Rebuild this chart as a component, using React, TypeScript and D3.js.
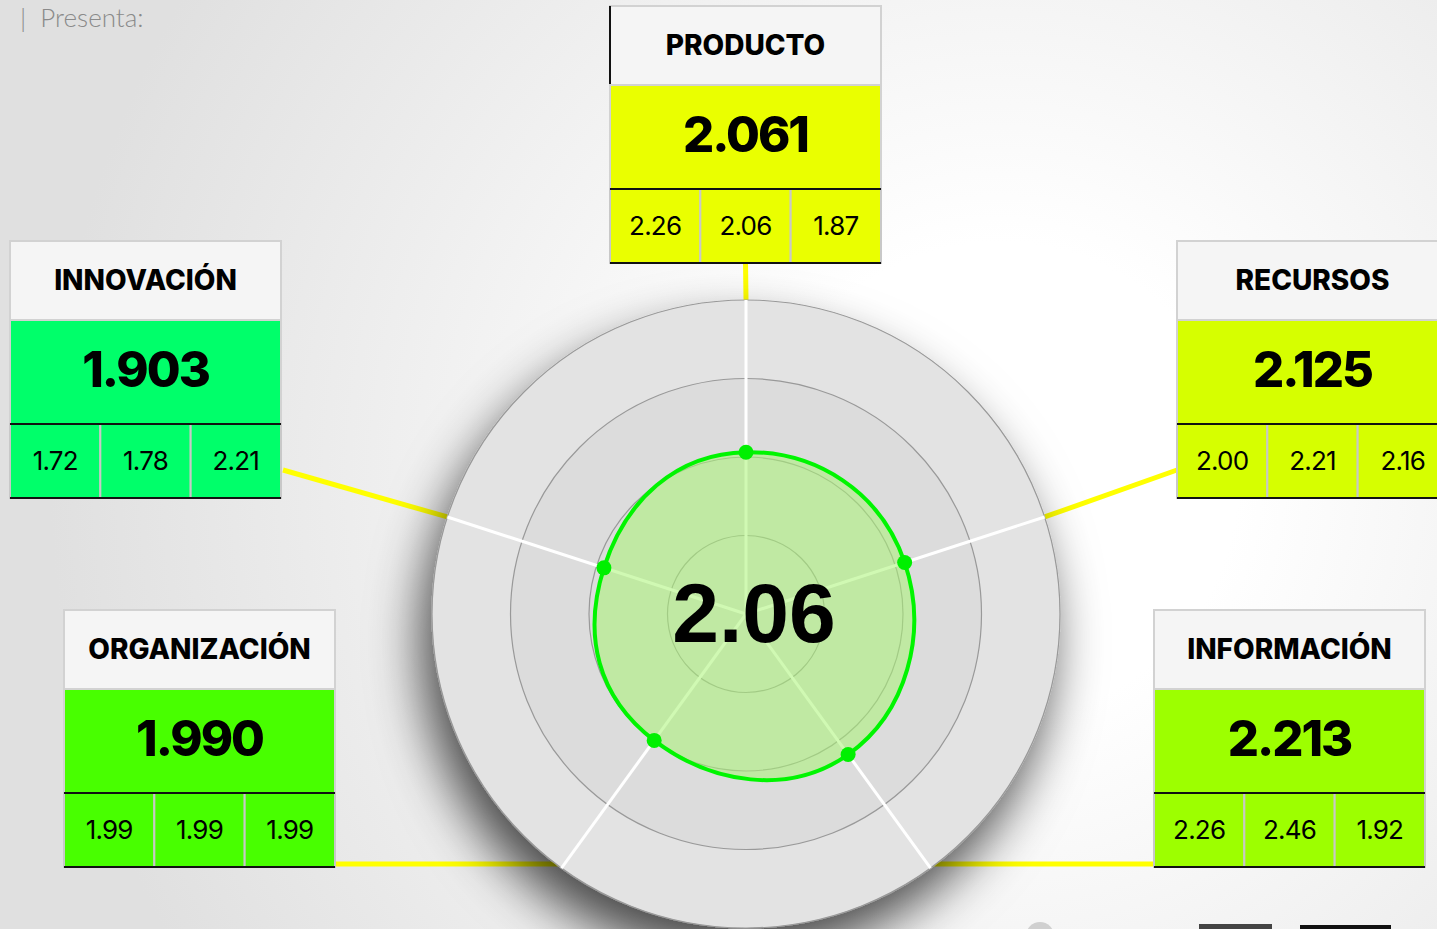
import React, { useEffect, useRef } from 'react'
import * as d3 from 'd3'

// data
const categories = ['PRODUCTO', 'RECURSOS', 'INFORMACIÓN', 'ORGANIZACIÓN', 'INNOVACIÓN']
const scores = [2.061, 2.125, 2.213, 1.99, 1.903]
const subScores = [
  [2.26, 2.06, 1.87],
  [2.0, 2.21, 2.16],
  [2.26, 2.46, 1.92],
  [1.99, 1.99, 1.99],
  [1.72, 1.78, 2.21],
]
const boxColors = ['#eaff00', '#d6ff00', '#9dff00', '#48ff00', '#00ff6a']
const overall = 2.06
const ringTicks = [1, 2, 3, 4]

// layout
const W = 1437
const H = 929
const cx = 746
const cy = 614
const R = 314
const boxPos = [
  [610, 6],
  [1177, 241],
  [1154, 610],
  [64, 610],
  [10, 241],
]
const BW = 271
const HEAD = 79
const VAL = 104
const SUB = 74

const App = () => {
  const svgRef = useRef<SVGSVGElement>(null)

  useEffect(() => {
    const svg = d3.select(svgRef.current)
    svg.selectAll('*').remove()

    const defs = svg.append('defs')
    const bg = defs.append('radialGradient').attr('id', 'bg')
      .attr('gradientUnits', 'userSpaceOnUse')
      .attr('cx', 1000).attr('cy', 480).attr('r', 950)
    bg.append('stop').attr('offset', '0.25').attr('stop-color', '#ffffff')
    bg.append('stop').attr('offset', '1').attr('stop-color', '#e0e0e0')

    const sh = defs.append('filter').attr('id', 'shadow')
      .attr('x', '-30%').attr('y', '-30%').attr('width', '160%').attr('height', '160%')
    sh.append('feDropShadow').attr('dx', -10).attr('dy', 28)
      .attr('stdDeviation', 26).attr('flood-color', '#000').attr('flood-opacity', 0.7)

    svg.append('rect').attr('width', W).attr('height', H).attr('fill', 'url(#bg)')

    svg.append('text').attr('x', 20).attr('y', 27)
      .attr('font-family', 'Lato, sans-serif').attr('font-weight', 300)
      .attr('font-size', 26).attr('fill', '#8a8a8a')
      .attr('xml:space', 'preserve')
      .text('|  Presenta:')

    // cut-off logos at the bottom edge
    svg.append('circle').attr('cx', 1040).attr('cy', 936).attr('r', 14).attr('fill', '#d0d0d0')
    svg.append('rect').attr('x', 1199).attr('y', 924).attr('width', 73).attr('height', 5).attr('fill', '#444')
    svg.append('rect').attr('x', 1300).attr('y', 925).attr('width', 91).attr('height', 4).attr('fill', '#111')

    const r = d3.scaleLinear().domain([0, 4]).range([0, R])
    const ang = d3.scaleLinear().domain([0, categories.length]).range([0, 2 * Math.PI])
    const pt = (i: number, v: number): [number, number] => [
      cx + r(v) * Math.sin(ang(i)),
      cy - r(v) * Math.cos(ang(i)),
    ]

    // connectors
    const ends = categories.map((_, i) => pt(i, 4))
    const anchors: [number, number][] = [
      [boxPos[0][0] + BW / 2, boxPos[0][1] + HEAD + VAL + SUB],
      [boxPos[1][0], boxPos[1][1] + 229],
      [boxPos[2][0], ends[2][1] - 4],
      [boxPos[3][0] + BW, ends[3][1] - 4],
      [boxPos[4][0] + BW + 2, boxPos[4][1] + 229],
    ]
    const starts: [number, number][] = ends.map((e, i) => (i === 2 || i === 3 ? [e[0], e[1] - 4] : e))
    svg.append('g').selectAll('line').data(categories).join('line')
      .attr('x1', (_, i) => starts[i][0]).attr('y1', (_, i) => starts[i][1])
      .attr('x2', (_, i) => anchors[i][0]).attr('y2', (_, i) => anchors[i][1])
      .attr('stroke', '#ffff00').attr('stroke-width', 5)

    // rings
    const g = svg.append('g')
    const rings = [...ringTicks].reverse()
    g.selectAll('circle.ring').data(rings).join('circle')
      .attr('class', 'ring')
      .attr('cx', cx).attr('cy', cy).attr('r', d => r(d))
      .attr('fill', d => (d === 4 ? '#e3e3e3' : '#dcdcdc'))
      .attr('stroke', '#999').attr('stroke-width', 1.2)
      .attr('filter', d => (d === 4 ? 'url(#shadow)' : null))

    g.selectAll('line.spoke').data(categories).join('line')
      .attr('class', 'spoke')
      .attr('x1', cx).attr('y1', cy)
      .attr('x2', (_, i) => ends[i][0]).attr('y2', (_, i) => ends[i][1])
      .attr('stroke', '#ffffff').attr('stroke-width', 3)

    const pts = scores.map((v, i) => pt(i, v))
    const line = d3.line().curve(d3.curveCardinalClosed.tension(-0.4))
    g.append('path').attr('d', line(pts))
      .attr('fill', '#aaf474').attr('fill-opacity', 0.55)
      .attr('stroke', '#00f500').attr('stroke-width', 4)

    g.selectAll('circle.dot').data(pts).join('circle')
      .attr('class', 'dot')
      .attr('cx', d => d[0]).attr('cy', d => d[1]).attr('r', 7.5)
      .attr('fill', '#00f000')

    g.append('text').attr('x', cx + 8).attr('y', cy + 28)
      .attr('text-anchor', 'middle')
      .attr('font-family', 'Liberation Sans, Arial, sans-serif').attr('font-weight', 700)
      .attr('font-size', 84).attr('fill', '#000')
      .text(d3.format('.2f')(overall))

    // boxes
    const boxes = svg.append('g').selectAll('g.box').data(categories).join('g')
      .attr('class', 'box')
      .attr('transform', (_, i) => `translate(${boxPos[i][0]},${boxPos[i][1]})`)

    boxes.append('rect').attr('width', BW).attr('height', HEAD)
      .attr('fill', '#f5f5f5').attr('stroke', '#d2d2d2').attr('stroke-width', 2)
    boxes.filter((_, i) => i === 0).append('line')
      .attr('x1', 0).attr('x2', 0).attr('y1', 0).attr('y2', HEAD)
      .attr('stroke', '#111').attr('stroke-width', 2)
    boxes.append('text').attr('x', BW / 2).attr('y', 49)
      .attr('text-anchor', 'middle')
      .attr('font-family', 'Inter, sans-serif').attr('font-weight', 800)
      .attr('font-size', 28).attr('fill', '#000')
      .text(d => d)

    boxes.append('rect').attr('y', HEAD).attr('width', BW).attr('height', VAL)
      .attr('fill', (_, i) => boxColors[i]).attr('stroke', '#d2d2d2').attr('stroke-width', 2)
    boxes.append('text').attr('x', BW / 2).attr('y', HEAD + 67)
      .attr('text-anchor', 'middle')
      .attr('font-family', 'Inter, sans-serif').attr('font-weight', 800)
      .attr('font-size', 49).attr('letter-spacing', -2).attr('fill', '#000')
      .text((_, i) => d3.format('.3f')(scores[i]))

    const cw = BW / 3
    boxes.each(function (_, i) {
      const b = d3.select(this)
      const row = b.append('g').attr('transform', `translate(0,${HEAD + VAL})`)
      row.selectAll('rect').data(subScores[i]).join('rect')
        .attr('x', (_, j) => j * cw).attr('width', cw).attr('height', SUB)
        .attr('fill', boxColors[i]).attr('stroke', '#c8c8c8').attr('stroke-width', 2)
      row.selectAll('text').data(subScores[i]).join('text')
        .attr('x', (_, j) => j * cw + cw / 2).attr('y', 46)
        .attr('text-anchor', 'middle')
        .attr('font-family', 'Inter, sans-serif').attr('font-weight', 400)
        .attr('font-size', 26).attr('letter-spacing', -0.8).attr('fill', '#000')
        .text(d => d3.format('.2f')(d))
      row.append('line').attr('x1', 0).attr('x2', BW).attr('y1', 0).attr('y2', 0)
        .attr('stroke', '#111').attr('stroke-width', 2)
      row.append('line').attr('x1', 0).attr('x2', BW).attr('y1', SUB).attr('y2', SUB)
        .attr('stroke', '#111').attr('stroke-width', 2)
    })
  }, [])

  return (
    <svg
      ref={svgRef}
      width={W}
      height={H}
      style={{ position: 'absolute', left: 0, top: 0, display: 'block' }}
    ></svg>
  )
}

export default App
